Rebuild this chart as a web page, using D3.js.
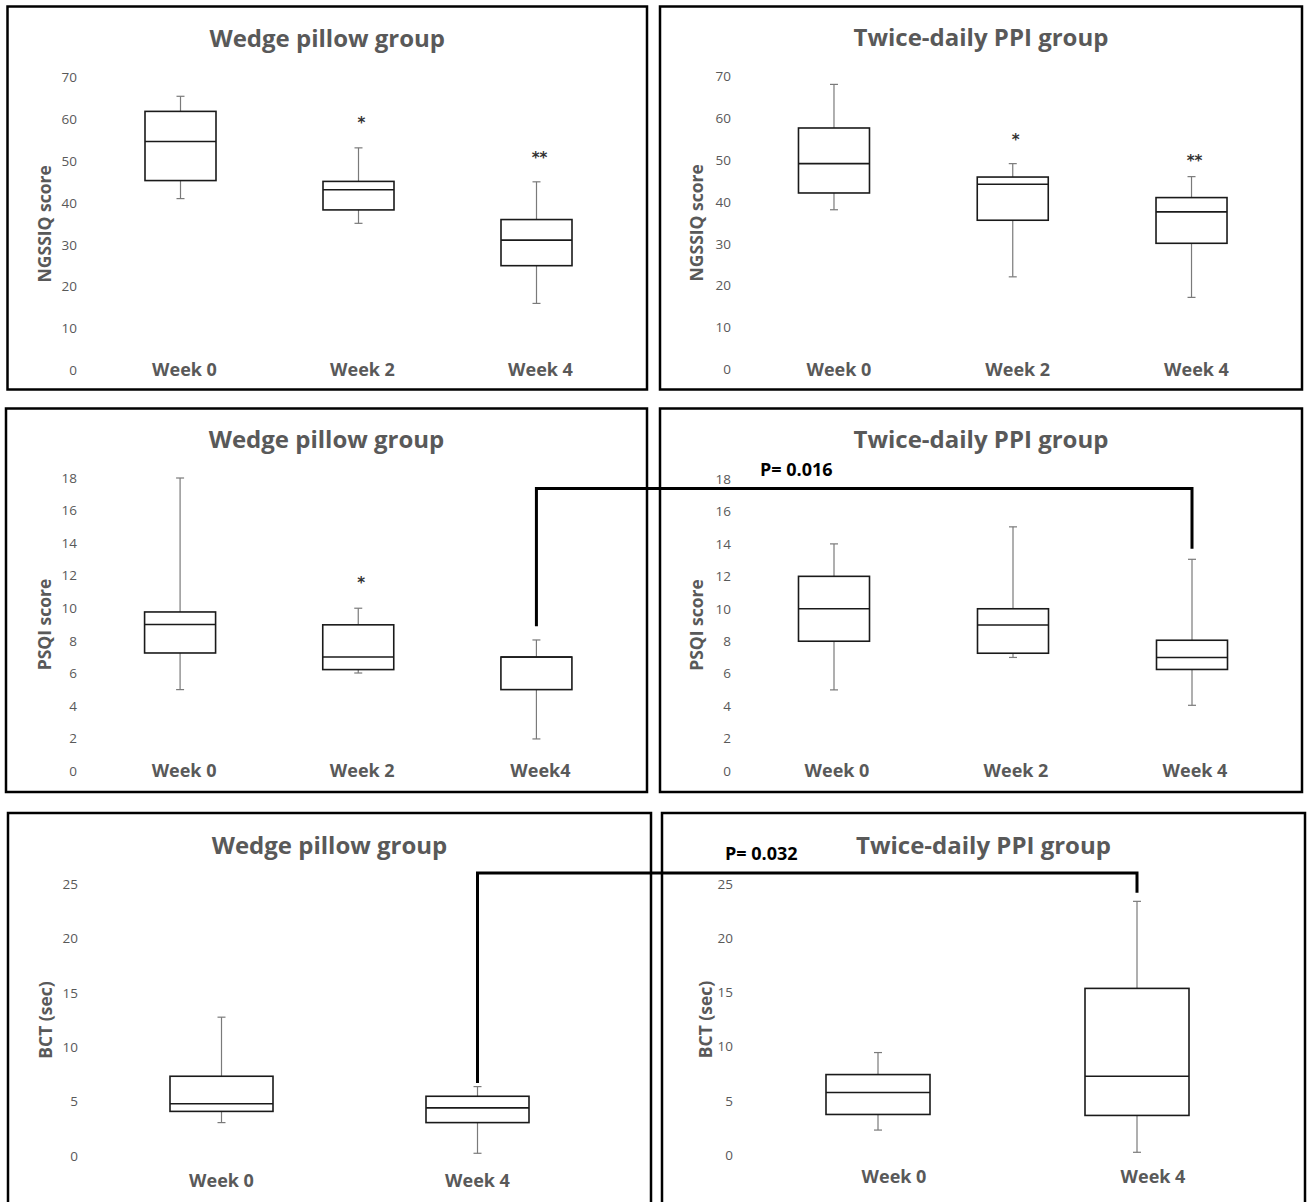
<!DOCTYPE html>
<html><head><meta charset="utf-8">
<script src="https://cdn.jsdelivr.net/npm/d3@7"></script>
<style>body{margin:0;background:#fff} svg{display:block}</style>
</head><body>
<script>
// ---------- DATA ----------
const weeks3 = ["Week 0", "Week 2", "Week 4"];
const weeks3b = ["Week 0", "Week 2", "Week4"];
const weeks2 = ["Week 0", "Week 4"];
const groupTitles = ["Wedge pillow group", "Twice-daily PPI group"];
const ngssiqTicks = [0, 10, 20, 30, 40, 50, 60, 70];
const psqiTicks = [0, 2, 4, 6, 8, 10, 12, 14, 16, 18];
const bctTicks = [0, 5, 10, 15, 20, 25];
// each entry: [min, q1, median, q3, max]
const ngssiqWedge = [[41, 45.3, 54.6, 61.8, 65.4], [35.1, 38.3, 43.1, 45.1, 53.1], [16, 25, 31.1, 36, 45]];
const ngssiqPPI = [[38.1, 42.1, 49.1, 57.6, 68], [22.1, 35.6, 44.2, 45.9, 49.1], [17.2, 30.1, 37.6, 41, 46]];
const psqiWedge = [[5, 7.25, 9, 9.77, 18], [6.02, 6.23, 7, 8.98, 10], [1.97, 5, 7, 7, 8.05]];
const psqiPPI = [[5, 8, 10, 12, 14], [7, 7.26, 9, 10, 15.05], [4.05, 6.26, 7, 8.06, 13.05]];
const bctWedge = [[3.07, 4.1, 4.8, 7.33, 12.76], [0.25, 3.07, 4.42, 5.49, 6.38]];
const bctPPI = [[2.3, 3.74, 5.77, 7.42, 9.45], [0.25, 3.65, 7.27, 15.37, 23.4]];
// significance marks: [label, value]
const ngssiqWedgeStars = [["", null], ["*", 60], ["**", 51.7]];
const ngssiqPPIStars = [["", null], ["*", 55.6], ["**", 50.8]];
const psqiWedgeStars = [["", null], ["*", 11.8], ["", null]];
// brackets between groups (week 4): [start value (left panel), top value, end value (right panel)]
const psqiBracket = [8.9, 17.36, 13.7];
const bctBracket = [6.7, 26.0, 24.2];
const pLabels = ["P= 0.016", "P= 0.032"];

// ---------- LAYOUT ----------
const W = 1309, H = 1202;
const svg = d3.select("body").append("svg").attr("width", W).attr("height", H);
const GRAY = "#595959";
const FONT = "'Open Sans', sans-serif";

const panels = [
  {box: [7.5, 6.5, 647, 389.5], yr: [370.5, 77], xr: [91.5, 625.5], bw: 71, cats: weeks3, data: ngssiqWedge, ticks: ngssiqTicks, max: 70, title: groupTitles[0], ylab: "NGSSIQ score", stars: ngssiqWedgeStars, titleY: 39, labelY: 370, labelDx: 4, tickR: 77, yTitleX: 45},
  {box: [660, 6.5, 1302, 389.5], yr: [369.5, 76], xr: [744.6, 1280.9], bw: 71, cats: weeks3, data: ngssiqPPI, ticks: ngssiqTicks, max: 70, title: groupTitles[1], ylab: "NGSSIQ score", stars: ngssiqPPIStars, titleY: 38, labelY: 370, labelDx: 5, tickR: 731, yTitleX: 697},
  {box: [6, 408.5, 647, 792], yr: [771, 478], xr: [91, 625.5], bw: 71, cats: weeks3b, data: psqiWedge, ticks: psqiTicks, max: 18, title: groupTitles[0], ylab: "PSQI score", stars: psqiWedgeStars, titleY: 440, labelY: 771, labelDx: 4, tickR: 77, yTitleX: 45},
  {box: [660, 408.5, 1302, 792], yr: [771, 479], xr: [744.5, 1281.5], bw: 71, cats: weeks3, data: psqiPPI, ticks: psqiTicks, max: 18, title: groupTitles[1], ylab: "PSQI score", stars: null, titleY: 440, labelY: 771, labelDx: 3, tickR: 731, yTitleX: 697},
  {box: [8, 813, 651, 1215], yr: [1156, 884], xr: [93.5, 605.5], bw: 103, cats: weeks2, data: bctWedge, ticks: bctTicks, max: 25, title: groupTitles[0], ylab: "BCT (sec)", stars: null, titleY: 846, labelY: 1181, labelDx: 0, tickR: 78, yTitleX: 46},
  {box: [662, 813, 1305, 1215], yr: [1155, 884], xr: [748.5, 1266.5], bw: 104, cats: weeks2, data: bctPPI, ticks: bctTicks, max: 25, title: groupTitles[1], ylab: "BCT (sec)", stars: null, titleY: 846, labelY: 1177, labelDx: 16, tickR: 733, yTitleX: 706}
];

panels.forEach(p => {
  const g = svg.append("g");
  const [bx0, by0, bx1, by1] = p.box;
  const y = d3.scaleLinear().domain([0, p.max]).range(p.yr);
  const x = d3.scalePoint().domain(p.cats).range(p.xr).padding(0.5);
  p.x = x; p.y = y;

  // border
  g.append("rect").attr("x", bx0).attr("y", by0).attr("width", bx1 - bx0).attr("height", by1 - by0)
    .attr("fill", "none").attr("stroke", "#000").attr("stroke-width", 2.5);

  // title
  g.append("text").attr("x", (bx0 + bx1) / 2).attr("y", p.titleY).attr("dy", "0.35em")
    .attr("text-anchor", "middle").attr("font-family", FONT).attr("font-weight", "bold")
    .attr("font-size", 24).attr("fill", GRAY).text(p.title);

  // y axis (labels only)
  const axis = d3.axisLeft(y).tickValues(p.ticks).tickSize(0).tickPadding(0).tickFormat(d3.format("d"));
  const ag = g.append("g").attr("transform", `translate(${p.tickR},0)`).call(axis);
  ag.select(".domain").remove();
  ag.selectAll("text").attr("font-family", FONT).attr("font-size", 13.5).attr("fill", GRAY);

  // y title
  g.append("text").attr("transform", `translate(${p.yTitleX},${(p.yr[0] + p.yr[1]) / 2}) rotate(-90)`)
    .attr("dy", "0.35em").attr("text-anchor", "middle").attr("font-family", FONT)
    .attr("font-weight", "bold").attr("font-size", 17.5).attr("fill", GRAY).text(p.ylab);

  // category labels
  g.selectAll(".cat").data(p.cats).join("text")
    .attr("x", d => x(d) + p.labelDx).attr("y", p.labelY).attr("dy", "0.35em")
    .attr("text-anchor", "middle").attr("font-family", FONT).attr("font-weight", "bold")
    .attr("font-size", 18).attr("fill", GRAY).text(d => d);

  // boxes
  const bg = g.selectAll(".bx").data(p.data.map((v, i) => ({v, c: p.cats[i]}))).join("g");
  const cap = 8;
  const wcol = "#7a7a7a";
  // whiskers
  bg.append("line").attr("x1", d => x(d.c)).attr("x2", d => x(d.c))
    .attr("y1", d => y(d.v[3])).attr("y2", d => y(d.v[4])).attr("stroke", wcol).attr("stroke-width", 1.2);
  bg.append("line").attr("x1", d => x(d.c)).attr("x2", d => x(d.c))
    .attr("y1", d => y(d.v[1])).attr("y2", d => y(d.v[0])).attr("stroke", wcol).attr("stroke-width", 1.2);
  bg.append("line").attr("x1", d => x(d.c) - cap / 2).attr("x2", d => x(d.c) + cap / 2)
    .attr("y1", d => y(d.v[4])).attr("y2", d => y(d.v[4])).attr("stroke", wcol).attr("stroke-width", 1.2);
  bg.append("line").attr("x1", d => x(d.c) - cap / 2).attr("x2", d => x(d.c) + cap / 2)
    .attr("y1", d => y(d.v[0])).attr("y2", d => y(d.v[0])).attr("stroke", wcol).attr("stroke-width", 1.2);
  // box
  bg.append("rect").attr("x", d => x(d.c) - p.bw / 2).attr("width", p.bw)
    .attr("y", d => y(d.v[3])).attr("height", d => y(d.v[1]) - y(d.v[3]))
    .attr("fill", "#fff").attr("stroke", "#1a1a1a").attr("stroke-width", 1.6);
  // median
  bg.append("line").attr("x1", d => x(d.c) - p.bw / 2).attr("x2", d => x(d.c) + p.bw / 2)
    .attr("y1", d => y(d.v[2])).attr("y2", d => y(d.v[2])).attr("stroke", "#1a1a1a").attr("stroke-width", 1.6);

  // stars
  if (p.stars) {
    g.selectAll(".star").data(p.stars.map((s, i) => ({s, c: p.cats[i]})).filter(d => d.s[1] !== null)).join("text")
      .attr("x", d => x(d.c) + 3).attr("y", d => y(d.s[1])).attr("dy", "0.6em")
      .attr("text-anchor", "middle").attr("font-family", "'DejaVu Sans', sans-serif")
      .attr("font-weight", "bold").attr("font-size", 15)
      .attr("fill", "#333").text(d => d.s[0]);
  }
});

// brackets
function bracket(lp, rp, vals, label, labelX) {
  const xs = lp.x(lp.cats[lp.cats.length - 1]);
  const xe = rp.x(rp.cats[rp.cats.length - 1]);
  const ys = lp.y(vals[0]), yt = lp.y(vals[1]), ye = rp.y(vals[2]);
  svg.append("path").attr("d", `M${xs},${ys}V${yt}H${xe}V${ye}`)
    .attr("fill", "none").attr("stroke", "#000").attr("stroke-width", 3);
  svg.append("text").attr("x", labelX).attr("y", yt - 19).attr("dy", "0.35em")
    .attr("font-family", FONT).attr("font-weight", "bold").attr("font-size", 18)
    .attr("fill", "#000").text(label);
}
bracket(panels[2], panels[3], psqiBracket, pLabels[0], 760);
bracket(panels[4], panels[5], bctBracket, pLabels[1], 725);
</script>
</body></html>
